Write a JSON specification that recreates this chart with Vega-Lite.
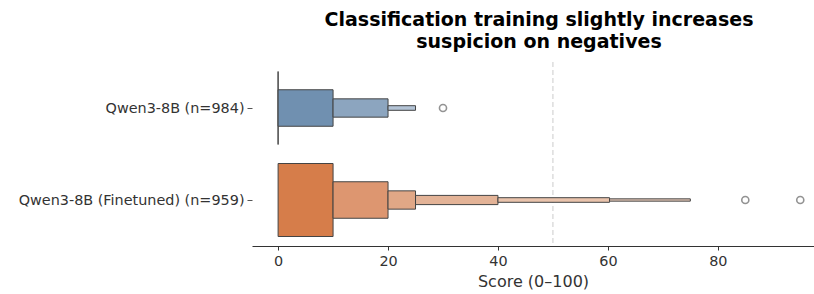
{
  "$schema": "https://vega.github.io/schema/vega-lite/v6.json",
  "width": 562,
  "height": 184,
  "autosize": {"type": "none"},
  "padding": {"left": 252, "top": 62, "right": 0, "bottom": 48},
  "background": "white",
  "config": {
    "view": {"stroke": null},
    "font": "DejaVu Sans",
    "axis": {"labelFont": "DejaVu Sans", "titleFont": "DejaVu Sans", "grid": false}
  },
  "title": {
    "text": ["Classification training slightly increases", "suspicion on negatives"],
    "font": "DejaVu Sans",
    "fontSize": 19,
    "fontWeight": "bold",
    "color": "#000000",
    "anchor": "middle",
    "frame": "group",
    "lineHeight": 22,
    "offset": 10,
    "dx": 6
  },
  "datasets": {
    "boxes": [
      {"model": "Qwen3-8B (n=984)", "key": "b1", "level": 1, "lo": 0, "hi": 0},
      {"model": "Qwen3-8B (n=984)", "key": "b2", "level": 2, "lo": 0, "hi": 10},
      {"model": "Qwen3-8B (n=984)", "key": "b3", "level": 3, "lo": 10, "hi": 20},
      {"model": "Qwen3-8B (n=984)", "key": "b5", "level": 5, "lo": 20, "hi": 25},
      {"model": "Qwen3-8B (Finetuned) (n=959)", "key": "o1", "level": 1, "lo": 0, "hi": 10},
      {"model": "Qwen3-8B (Finetuned) (n=959)", "key": "o2", "level": 2, "lo": 10, "hi": 20},
      {"model": "Qwen3-8B (Finetuned) (n=959)", "key": "o3", "level": 3, "lo": 20, "hi": 25},
      {"model": "Qwen3-8B (Finetuned) (n=959)", "key": "o4", "level": 4, "lo": 25, "hi": 40},
      {"model": "Qwen3-8B (Finetuned) (n=959)", "key": "o5", "level": 5, "lo": 40, "hi": 60.3},
      {"model": "Qwen3-8B (Finetuned) (n=959)", "key": "o6", "level": 6, "lo": 60.3, "hi": 75}
    ],
    "outliers": [
      {"model": "Qwen3-8B (n=984)", "score": 30},
      {"model": "Qwen3-8B (Finetuned) (n=959)", "score": 85},
      {"model": "Qwen3-8B (Finetuned) (n=959)", "score": 95}
    ],
    "ref": [{"score": 50}]
  },
  "layer": [
    {
      "data": {"name": "ref"},
      "mark": {"type": "rule", "color": "#cccccc", "strokeDash": [5, 3], "strokeWidth": 1},
      "encoding": {"x": {"field": "score", "type": "quantitative"}}
    },
    {
      "data": {"name": "boxes"},
      "mark": {"type": "bar", "stroke": "#444444", "strokeWidth": 1},
      "encoding": {
        "y": {
          "field": "model", "type": "nominal",
          "sort": ["Qwen3-8B (n=984)", "Qwen3-8B (Finetuned) (n=959)"],
          "scale": {"type": "point", "padding": 0.5},
          "axis": {
            "title": null, "domain": false, "ticks": true, "tickSize": 5,
            "tickColor": "#555555", "labelPadding": 3, "labelFontSize": 14.4,
            "labelColor": "#333333", "labelLimit": 400
          }
        },
        "x": {
          "field": "lo", "type": "quantitative",
          "scale": {"domain": [-4.75, 97.5], "nice": false, "zero": false},
          "axis": {
            "title": "Score (0–100)", "titleFontSize": 16, "titleFontWeight": "normal",
            "titleColor": "#333333", "titlePadding": 6,
            "values": [0, 20, 40, 60, 80], "domainColor": "#333333", "domainWidth": 1.2,
            "tickColor": "#333333", "tickSize": 4, "labelPadding": 4,
            "labelFontSize": 14.4, "labelColor": "#333333"
          }
        },
        "x2": {"field": "hi"},
        "size": {
          "field": "level", "type": "quantitative",
          "scale": {"type": "quantize", "domain": [0.5, 6.5], "range": [73, 36.5, 18.3, 9.2, 4.6, 2.3], "zero": false, "nice": false},
          "legend": null
        },
        "color": {
          "field": "key", "type": "nominal",
          "scale": {
            "domain": ["b1", "b2", "b3", "b5", "o1", "o2", "o3", "o4", "o5", "o6"],
            "range": ["#5A7DA6", "#7090B0", "#8CA5BF", "#B3C3D5", "#D67D4A", "#DD9670", "#E0A786", "#E3B397", "#E9C3AC", "#EDCFBD"]
          },
          "legend": null
        }
      }
    },
    {
      "data": {"name": "outliers"},
      "mark": {"type": "point", "shape": "circle", "filled": false, "stroke": "#666666", "strokeWidth": 1.6, "size": 50},
      "encoding": {
        "y": {"field": "model", "type": "nominal", "sort": ["Qwen3-8B (n=984)", "Qwen3-8B (Finetuned) (n=959)"]},
        "x": {"field": "score", "type": "quantitative"}
      }
    }
  ]
}
